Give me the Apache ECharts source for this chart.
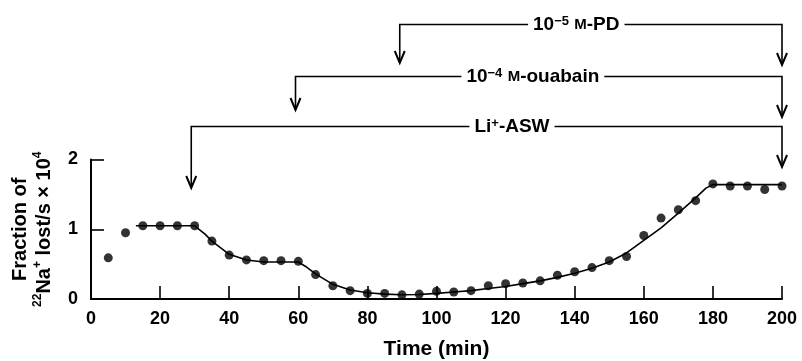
<!DOCTYPE html>
<html>
<head>
<meta charset="utf-8">
<script src="https://cdn.jsdelivr.net/npm/echarts@6/dist/echarts.min.js"></script>
<style>
  html, body { margin: 0; padding: 0; background: #fff; }
  #chart { width: 802px; height: 361px; }
</style>
</head>
<body>
<div id="chart"></div>
<script>
// measured points (time in min, fraction of 22Na+ lost/s x 10^4)
var timeMin = [5, 10, 15, 20, 25, 30, 35, 40, 45, 50, 55, 60, 65, 70, 75, 80, 85, 90, 95, 100,
    105, 110, 115, 120, 125, 130, 135, 140, 145, 150, 155, 160, 165, 170, 175, 180, 185, 190, 195, 200];
var fraction = [0.59, 0.95, 1.05, 1.05, 1.05, 1.05, 0.83, 0.63, 0.56, 0.55, 0.55, 0.54, 0.35, 0.19, 0.12, 0.08, 0.08, 0.06, 0.07, 0.11,
    0.10, 0.12, 0.19, 0.22, 0.23, 0.26, 0.34, 0.39, 0.45, 0.55, 0.61, 0.91, 1.16, 1.28, 1.41, 1.65, 1.62, 1.62, 1.57, 1.62];

// drawn curve through the points
var fitX = [13, 30, 33, 35, 40, 45, 50, 60, 62, 65, 70, 75, 80, 85, 90, 95, 100, 105, 110, 115, 120, 125, 130, 135, 140,
    145, 150, 155, 160, 165, 170, 175, 178, 180, 200];
var fitY = [1.05, 1.05, 0.93, 0.83, 0.64, 0.56, 0.53, 0.53, 0.47, 0.36, 0.21, 0.13, 0.09, 0.07, 0.06, 0.065, 0.08, 0.10, 0.12, 0.15, 0.18,
    0.22, 0.26, 0.31, 0.37, 0.44, 0.53, 0.66, 0.84, 1.02, 1.23, 1.45, 1.59, 1.64, 1.64];

var xTicks = [0, 20, 40, 60, 80, 100, 120, 140, 160, 180, 200];
var yTicks = [0, 1, 2];

// treatment brackets: start, end (min), levels in the top band
var annStart = [90, 60, 30];
var annEnd = [200, 200, 200];
var annLine = [24.5, 76.5, 126.5];
var annLeftTip = [63, 110, 188];
var annRightTip = [65, 117, 167];
var annTextAt = [140.8, 128.3, 122.3];
var annLabels = [
    '10{sup|−5} {sc|M}-PD',
    '10{sup|−4} {sc|M}-ouabain',
    'Li{sup|+}-ASW'
];

var FONT = '"Liberation Sans", Arial, sans-serif';

var scatterData = timeMin.map(function (t, i) { return [t, fraction[i]]; });
var fitData = fitX.map(function (t, i) { return [t, fitY[i]]; });
var annData = annStart.map(function (s, i) {
    return [s, annEnd[i], annLine[i], annLeftTip[i], annRightTip[i], annTextAt[i]];
});

function arrowHead(p) {
    return {
        type: 'polyline',
        shape: { points: [[p[0] - 5, p[1] - 12], [p[0], p[1]], [p[0] + 5, p[1] - 12]] },
        style: { stroke: '#000', lineWidth: 2, fill: 'none' }
    };
}

function renderBracket(params, api) {
    var i = params.dataIndex;
    var a = api.coord([api.value(0), api.value(2)]);
    var b = api.coord([api.value(1), api.value(2)]);
    var lt = api.coord([api.value(0), api.value(3)]);
    var rt = api.coord([api.value(1), api.value(4)]);
    var c = api.coord([api.value(5), api.value(2)]);
    return {
        type: 'group',
        children: [
            { type: 'polyline', shape: { points: [lt, a, b, rt] }, style: { stroke: '#000', lineWidth: 1.6, fill: 'none' } },
            arrowHead(lt),
            arrowHead(rt),
            {
                type: 'text', x: c[0], y: c[1],
                style: {
                    text: annLabels[i], align: 'center', verticalAlign: 'middle',
                    fontFamily: FONT, fontSize: 19, fontWeight: 'bold', fill: '#000',
                    backgroundColor: '#fff', padding: [0, 5],
                    rich: {
                        sup: { fontSize: 13, fontWeight: 'bold', fontFamily: FONT, verticalAlign: 'top', lineHeight: 12 },
                        sc: { fontSize: 15, fontWeight: 'bold', fontFamily: FONT }
                    }
                }
            }
        ]
    };
}

var chart = echarts.init(document.getElementById('chart'));
chart.setOption({
    animation: false,
    backgroundColor: '#fff',
    textStyle: { fontFamily: FONT, color: '#000' },
    grid: [
        { left: 87, right: 20, top: 159.5, bottom: 60.5 },
        { left: 87, right: 20, top: 0, height: 200 }
    ],
    xAxis: [{
        type: 'value', gridIndex: 0,
        min: xTicks[0], max: xTicks[xTicks.length - 1], interval: 20,
        name: 'Time (min)', nameLocation: 'middle', nameGap: 40,
        nameTextStyle: { fontSize: 21, fontWeight: 'bold', color: '#000' },
        axisLine: { lineStyle: { color: '#000', width: 2 } },
        axisTick: { inside: true, length: 13, lineStyle: { color: '#000', width: 1.6 } },
        axisLabel: { fontSize: 18, fontWeight: 'bold', color: '#000', margin: 11 },
        splitLine: { show: false }
    }, {
        type: 'value', gridIndex: 1, min: 0, max: 200, show: false
    }],
    yAxis: [{
        type: 'value', gridIndex: 0,
        min: yTicks[0], max: yTicks[yTicks.length - 1], interval: 1,
        name: 'Fraction of\n{sup|22}Na{sup|+} lost/s × 10{sup|4}',
        nameLocation: 'middle', nameRotate: 90, nameGap: 35,
        nameTextStyle: {
            fontSize: 20, fontWeight: 'bold', color: '#000', lineHeight: 24,
            rich: { sup: { fontSize: 12, fontWeight: 'bold', verticalAlign: 'top', lineHeight: 12 } }
        },
        axisLine: { show: true, lineStyle: { color: '#000', width: 2 } },
        axisTick: { show: true, inside: true, length: 13, lineStyle: { color: '#000', width: 1.6 } },
        axisLabel: { fontSize: 18, fontWeight: 'bold', color: '#000', margin: 13 },
        splitLine: { show: false }
    }, {
        type: 'value', gridIndex: 1, min: 0, max: 200, inverse: true, show: false
    }],
    series: [{
        type: 'line', xAxisIndex: 0, yAxisIndex: 0,
        data: fitData, symbol: 'none', smooth: false,
        lineStyle: { color: '#000', width: 1.6 }
    }, {
        type: 'scatter', xAxisIndex: 0, yAxisIndex: 0,
        data: scatterData, symbol: 'circle', symbolSize: 9,
        itemStyle: { color: '#000' }
    }, {
        type: 'custom', xAxisIndex: 1, yAxisIndex: 1,
        data: annData, renderItem: renderBracket, clip: false
    }]
});
</script>
</body>
</html>
